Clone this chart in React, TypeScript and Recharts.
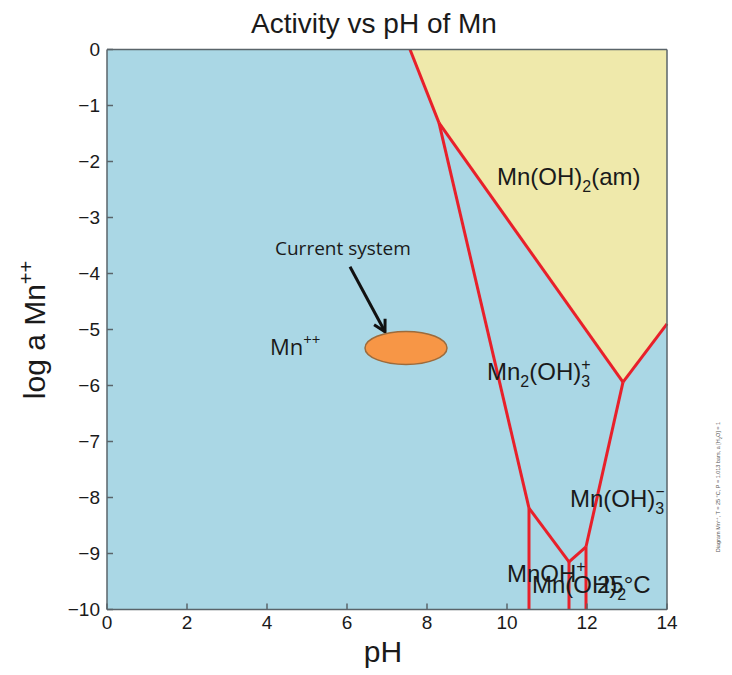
import React from 'react';
import { ComposedChart, XAxis, YAxis, Area, Scatter, ReferenceLine, CartesianGrid } from 'recharts';

// axis ticks
const xTicks = [0, 2, 4, 6, 8, 10, 12, 14];
const yTicks = [0, -1, -2, -3, -4, -5, -6, -7, -8, -9, -10];

// Mn(OH)2(am) stability field (lower boundary, top is log a = 0)
const fieldPH = [7.575, 8.3, 12.9, 14];
const fieldLow = [0, -1.31, -5.94, -4.9];

// boundary nodes of the diagram
const nodePH = [7.575, 8.3, 12.9, 14, 10.55, 11.55, 11.975, 10.55, 11.55, 11.975];
const nodeLog = [0, -1.31, -5.94, -4.9, -8.19, -9.15, -8.88, -10, -10, -10];
const segFrom = [0, 1, 2, 1, 4, 4, 5, 5, 2, 6];
const segTo = [1, 2, 3, 4, 7, 5, 8, 6, 6, 9];

// species labels (position = left end of baseline)
const labelPH = [9.75, 9.5, 11.575, 10.0, 10.625, 12.25];
const labelLog = [-2.42, -5.9, -8.17, -9.5, -9.7, -9.7];
const labelParts: [string, string][][] = [
  [['Mn(OH)', 'n'], ['2', 'sub'], ['(am)', 'n']],
  [['Mn', 'n'], ['2', 'sub'], ['(OH)', 'n'], ['3', 'sub'], ['+', 'over']],
  [['Mn(OH)', 'n'], ['3', 'sub'], ['\u2212', 'over']],
  [['MnOH', 'n'], ['+', 'sup']],
  [['Mn(OH)', 'n'], ['2', 'sub']],
  [['25\u00b0C', 'n']],
];

// annotation: current system
const systemPH = [7.475];
const systemLog = [-5.33];
const arrowPH = [6.075, 6.95];
const arrowLog = [-3.88, -5.04];
const notePH = [4.2, 4.075];
const noteLog = [-3.67, -5.46];
const noteParts: [string, string][][] = [
  [['Current system', 'n']],
  [['Mn', 'n'], ['++', 'sup']],
];

const fieldData = fieldPH.map((p, i) => ({ pH: p, band: [fieldLow[i], 0] }));
const speciesData = labelPH.map((p, i) => ({ pH: p, log: labelLog[i], parts: labelParts[i] }));
const noteData = notePH.map((p, i) => ({ pH: p, log: noteLog[i], parts: noteParts[i] }));
const systemData = systemPH.map((p, i) => ({ pH: p, log: systemLog[i] }));

const FONT = '"Liberation Sans", Arial, sans-serif';
const fmt = (v: number) => (v < 0 ? '\u2212' + Math.abs(v) : String(v));

const renderParts = (parts: [string, string][], big: number, small: number) => {
  let cur = 0;
  return parts.map(([t, k], i) => {
    let target = 0;
    let dx: number | undefined;
    if (k === 'sub') target = 7;
    else if (k === 'sup') target = -10;
    else if (k === 'over') {
      target = -10;
      dx = -small * 0.56;
    }
    const el = (
      <tspan key={i} dy={target - cur} dx={dx} fontSize={k === 'n' ? big : small}>
        {t}
      </tspan>
    );
    cur = target;
    return el;
  });
};

const SpeciesLabel = (props: any) => {
  const { cx, cy, payload } = props;
  return (
    <text x={cx} y={cy} fill="#1a1a1a" fontFamily={FONT} fontSize={24}>
      {renderParts(payload.parts, 24, 16)}
    </text>
  );
};

const NoteLabel = (props: any) => {
  const { cx, cy, payload } = props;
  return (
    <text x={cx} y={cy} fill="#1a1a1a" fontFamily='"Open Sans", sans-serif' fontSize={payload.parts.length > 1 ? 22 : 19}>
      {renderParts(payload.parts, payload.parts.length > 1 ? 22 : 19, 15)}
    </text>
  );
};

const SystemEllipse = (props: any) => {
  const { cx, cy } = props;
  return <ellipse cx={cx} cy={cy} rx={41} ry={16.5} fill="#f79646" stroke="#9c6b3c" strokeWidth={1.5} />;
};

const Arrow = (p: any) => {
  const { x1, y1, x2, y2 } = p;
  const a = Math.atan2(y2 - y1, x2 - x1);
  const L = 13;
  const w = 0.5;
  const pa = `${x2 - L * Math.cos(a - w)},${y2 - L * Math.sin(a - w)} ${x2},${y2} ${x2 - L * Math.cos(a + w)},${y2 - L * Math.sin(a + w)}`;
  return (
    <g>
      <line x1={x1} y1={y1} x2={x2} y2={y2} stroke="#111" strokeWidth={3} />
      <polyline points={pa} fill="none" stroke="#111" strokeWidth={3} />
    </g>
  );
};

const AXIS = '#5a646a';

export default function App() {
  return (
    <div style={{ position: 'relative', width: 724, height: 667 }}>
      <ComposedChart
        width={724}
        height={667}
        data={fieldData}
        margin={{ top: 36.5, right: 60, bottom: 35.5, left: 39 }}
        style={{ fontFamily: FONT }}
      >
        <CartesianGrid horizontal={false} vertical={false} fill="#aad7e5" fillOpacity={1} />
        <XAxis
          dataKey="pH"
          type="number"
          domain={[0, 14]}
          ticks={xTicks}
          allowDataOverflow
          height={30}
          tickSize={-6}
          tickMargin={12}
          stroke={AXIS}
          strokeWidth={1.5}
          tick={{ fill: '#1a1a1a', fontSize: 19 }}
          tickFormatter={fmt}
        />
        <XAxis
          xAxisId="t"
          orientation="top"
          type="number"
          domain={[0, 14]}
          ticks={xTicks}
          allowDataOverflow
          height={5}
          tickSize={-6}
          tick={false}
          stroke={AXIS}
          strokeWidth={1.5}
        />
        <YAxis
          dataKey="log"
          type="number"
          domain={[-10, 0]}
          ticks={yTicks}
          allowDataOverflow
          width={60}
          tickSize={-6}
          tickMargin={13}
          stroke={AXIS}
          strokeWidth={1.5}
          tick={{ fill: '#1a1a1a', fontSize: 19 }}
          tickFormatter={fmt}
        />
        <YAxis
          yAxisId="r"
          orientation="right"
          type="number"
          domain={[-10, 0]}
          ticks={yTicks}
          allowDataOverflow
          width={5}
          tickSize={-6}
          tick={false}
          stroke={AXIS}
          strokeWidth={1.5}
        />
        <Area
          dataKey="band"
          type="linear"
          fill="#efe9ab"
          fillOpacity={1}
          stroke="none"
          isAnimationActive={false}
          dot={false}
          activeDot={false}
        />
        {segFrom.map((f, i) => (
          <ReferenceLine
            key={i}
            segment={[
              { x: nodePH[f], y: nodeLog[f] },
              { x: nodePH[segTo[i]], y: nodeLog[segTo[i]] },
            ]}
            stroke="#e8202a"
            strokeWidth={3}
            ifOverflow="visible"
          />
        ))}
        <ReferenceLine
          segment={[
            { x: arrowPH[0], y: arrowLog[0] },
            { x: arrowPH[1], y: arrowLog[1] },
          ]}
          ifOverflow="visible"
          shape={Arrow}
        />
        <Scatter data={systemData} shape={SystemEllipse} isAnimationActive={false} />
        <Scatter data={speciesData} shape={SpeciesLabel} isAnimationActive={false} />
        <Scatter data={noteData} shape={NoteLabel} isAnimationActive={false} />
      </ComposedChart>
      <svg
        width={724}
        height={667}
        style={{ position: 'absolute', left: 0, top: 0, pointerEvents: 'none' }}
      >
        <text x={366} y={25} textAnchor="middle" fontFamily={FONT} fontSize={28} fill="#1a1a1a">
          Activity vs pH of Mn
        </text>
        <text
          x={37}
          y={322}
          textAnchor="middle"
          fontFamily={FONT}
          fontSize={30}
          fill="#1a1a1a"
          transform="rotate(-90 37 322)"
        >
          log a Mn
          <tspan dy={-12} fontSize={20}>
            ++
          </tspan>
        </text>
        <text x={375} y={654} textAnchor="middle" fontFamily={FONT} fontSize={30} fill="#1a1a1a">
          pH
        </text>
        <text
          x={712}
          y={479}
          textAnchor="middle"
          fontFamily={FONT}
          fontSize={5.5}
          fill="#555"
          transform="rotate(-90 712 479)"
        >
          Diagram Mn
          <tspan dy={-2} fontSize={4}>
            ++
          </tspan>
          <tspan dy={2}>, T = 25 °C, P = 1.013 bars, a [H</tspan>
          <tspan dy={1.5} fontSize={4}>
            2
          </tspan>
          <tspan dy={-1.5}>O] = 1</tspan>
        </text>
      </svg>
    </div>
  );
}
